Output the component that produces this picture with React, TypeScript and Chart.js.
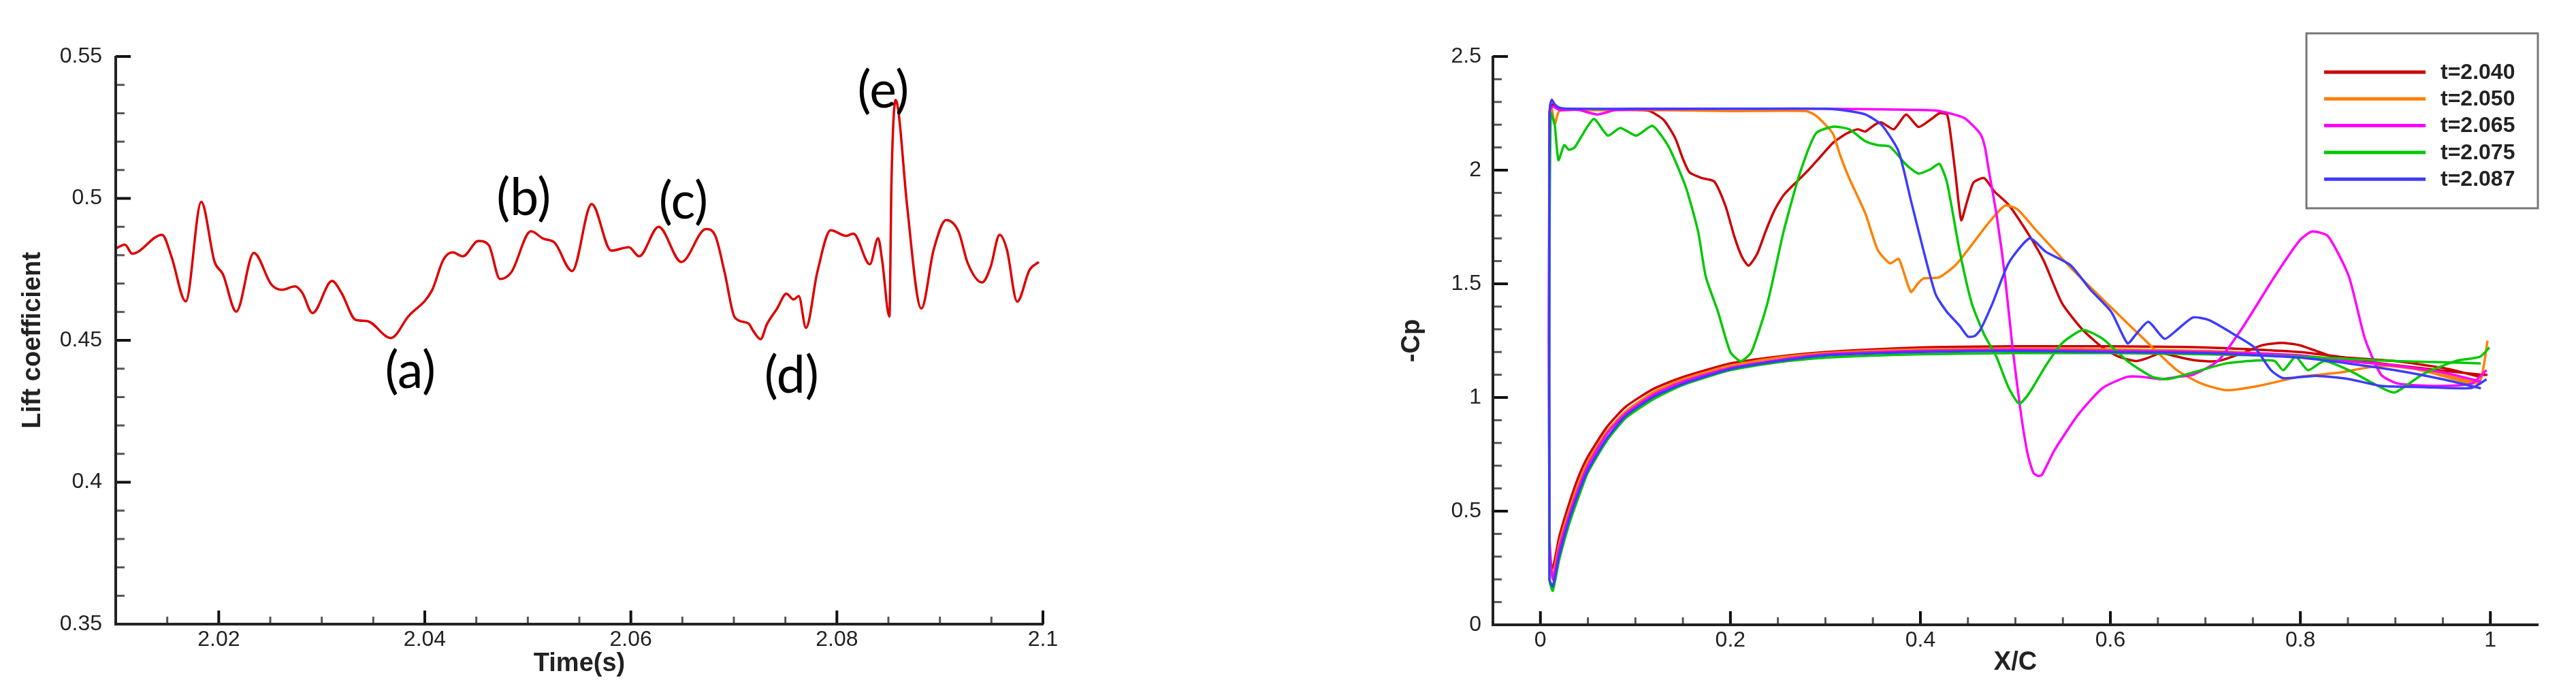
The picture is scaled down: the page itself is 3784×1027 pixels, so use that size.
import React, { useEffect, useRef } from 'react';
import { Chart, registerables } from 'chart.js';

Chart.register(...registerables);

// ---------------- Left chart: lift coefficient ----------------
const LIFT_TIME = [
  2.01, 2.0109, 2.0116, 2.0145, 2.0154, 2.0168, 2.0183, 2.0196, 2.0204, 2.0217,
  2.0234, 2.0251, 2.0261, 2.0274, 2.0281, 2.0291, 2.031, 2.0319, 2.0333, 2.0344,
  2.0367, 2.0384, 2.0407, 2.0418, 2.0427, 2.0437, 2.0452, 2.0462, 2.0473, 2.0484,
  2.0503, 2.0515, 2.0526, 2.0543, 2.0562, 2.0581, 2.0598, 2.0608, 2.0627, 2.0649,
  2.0673, 2.0682, 2.0691, 2.0701, 2.0714, 2.0719, 2.0726, 2.0732, 2.0742, 2.0751,
  2.0758, 2.0763, 2.077, 2.0781, 2.0794, 2.0809, 2.0816, 2.0832, 2.084, 2.0844,
  2.0851, 2.0853, 2.0857, 2.086, 2.0868, 2.0882, 2.0894, 2.0906, 2.0918, 2.0927,
  2.0941, 2.0949, 2.0958, 2.0965, 2.0975, 2.0987, 2.0996,
];
const LIFT_VALUE = [
  0.4824, 0.4837, 0.4805, 0.4872, 0.4796, 0.4637, 0.4988, 0.4776, 0.4733, 0.4601,
  0.4808, 0.4697, 0.4678, 0.469, 0.4668, 0.4596, 0.4709, 0.4668, 0.4572, 0.4568,
  0.4508, 0.4584, 0.4676, 0.4784, 0.481, 0.4796, 0.485, 0.4836, 0.4716, 0.474,
  0.4884, 0.4858, 0.4844, 0.4744, 0.498, 0.4816, 0.4828, 0.4796, 0.49, 0.4776,
  0.4892, 0.4868, 0.474, 0.458, 0.456, 0.4532, 0.4504, 0.4556, 0.4612, 0.4664,
  0.4644, 0.4656, 0.4544, 0.474, 0.4888, 0.4868, 0.4876, 0.4768, 0.486, 0.478,
  0.4584, 0.506, 0.5347, 0.5299, 0.498, 0.4612, 0.482, 0.4924, 0.4884, 0.4772,
  0.4704, 0.4756, 0.4872, 0.482, 0.4636, 0.4748, 0.4776,
];
const LIFT_X_TICKS = [2.02, 2.04, 2.06, 2.08, 2.1];
const LIFT_X_TICK_LABELS = ['2.02', '2.04', '2.06', '2.08', '2.1'];
const LIFT_Y_TICKS = [0.35, 0.4, 0.45, 0.5, 0.55];
const LIFT_Y_TICK_LABELS = ['0.35', '0.4', '0.45', '0.5', '0.55'];
const ANNOT_LABELS = ['(a)', '(b)', '(c)', '(d)', '(e)'];
const ANNOT_X = [2.0386, 2.0496, 2.0651, 2.0756, 2.0845];
const ANNOT_Y = [0.439, 0.4999, 0.4987, 0.4373, 0.5378];

// ---------------- Right chart: -Cp distributions ----------------
const CP_LABELS = ['t=2.040', 't=2.050', 't=2.065', 't=2.075', 't=2.087'];

const CP_LOWER_X = [0.013, 0.02, 0.03, 0.04, 0.05, 0.07, 0.09, 0.12, 0.15, 0.2, 0.25, 0.3, 0.4, 0.5, 0.6, 0.7, 0.8, 0.85, 0.9, 0.95, 0.99];
const CP_T2040_LOWER = [0.25, 0.39, 0.53, 0.65, 0.74, 0.87, 0.96, 1.04, 1.09, 1.15, 1.18, 1.2, 1.22, 1.225, 1.225, 1.22, 1.2, 1.175, 1.16, 1.13, 1.09];
const CP_T2050_LOWER = [0.22, 0.36, 0.5, 0.62, 0.72, 0.85, 0.94, 1.025, 1.08, 1.14, 1.175, 1.195, 1.212, 1.215, 1.212, 1.205, 1.185, 1.16, 1.14, 1.1, 1.06];
const CP_T2065_LOWER = [0.2, 0.34, 0.48, 0.6, 0.7, 0.84, 0.93, 1.015, 1.07, 1.13, 1.165, 1.19, 1.205, 1.21, 1.205, 1.2, 1.185, 1.16, 1.14, 1.11, 1.07];
const CP_T2075_LOWER = [0.15, 0.29, 0.44, 0.56, 0.67, 0.81, 0.91, 0.995, 1.055, 1.12, 1.155, 1.175, 1.19, 1.195, 1.195, 1.19, 1.18, 1.17, 1.16, 1.155, 1.15];
const CP_T2087_LOWER = [0.17, 0.31, 0.46, 0.58, 0.68, 0.82, 0.92, 1.005, 1.06, 1.125, 1.16, 1.185, 1.2, 1.205, 1.2, 1.195, 1.175, 1.15, 1.12, 1.08, 1.04];

const CP_T2040_UPPER: number[][] = [
  [0.0095, 0.3], [0.0095, 2.25], [0.013, 2.29], [0.02, 2.27], [0.05, 2.265], [0.1, 2.265], [0.115, 2.26],
  [0.13, 2.22], [0.142, 2.14], [0.15, 2.05], [0.157, 1.99], [0.17, 1.965], [0.183, 1.95], [0.195, 1.84],
  [0.204, 1.71], [0.212, 1.62], [0.219, 1.58], [0.228, 1.63], [0.237, 1.73], [0.246, 1.82], [0.256, 1.89],
  [0.27, 1.95], [0.282, 2.0], [0.295, 2.06], [0.308, 2.12], [0.322, 2.16], [0.334, 2.18], [0.342, 2.17],
  [0.352, 2.2], [0.359, 2.21], [0.372, 2.18], [0.385, 2.245], [0.398, 2.19], [0.41, 2.22], [0.42, 2.25],
  [0.428, 2.245], [0.432, 2.15], [0.437, 1.98], [0.443, 1.78], [0.449, 1.86], [0.456, 1.946], [0.467, 1.965],
  [0.478, 1.906], [0.493, 1.847], [0.515, 1.71], [0.53, 1.6], [0.549, 1.415], [0.571, 1.297], [0.592, 1.219],
  [0.609, 1.179], [0.627, 1.16], [0.64, 1.175], [0.653, 1.195], [0.67, 1.18], [0.687, 1.165], [0.713, 1.16],
  [0.739, 1.195], [0.76, 1.23], [0.78, 1.24], [0.799, 1.23], [0.82, 1.2], [0.834, 1.18], [0.885, 1.15],
  [0.946, 1.12], [0.99, 1.1], [0.997, 1.1],
];
const CP_T2050_UPPER: number[][] = [
  [0.0095, 0.3], [0.0095, 2.2], [0.012, 2.27], [0.015, 2.2], [0.02, 2.26], [0.05, 2.265], [0.1, 2.265],
  [0.2, 2.26], [0.28, 2.26], [0.29, 2.24], [0.3, 2.2], [0.308, 2.16], [0.316, 2.06], [0.325, 1.965],
  [0.342, 1.81], [0.355, 1.65], [0.368, 1.59], [0.377, 1.61], [0.381, 1.57], [0.39, 1.464], [0.397, 1.5],
  [0.403, 1.523], [0.42, 1.529], [0.437, 1.582], [0.454, 1.671], [0.472, 1.769], [0.489, 1.844], [0.502, 1.828],
  [0.523, 1.73], [0.558, 1.572], [0.601, 1.395], [0.635, 1.258], [0.67, 1.12], [0.696, 1.061], [0.722, 1.032],
  [0.756, 1.051], [0.799, 1.091], [0.842, 1.11], [0.885, 1.14], [0.928, 1.12], [0.98, 1.061], [0.99, 1.08],
  [0.997, 1.25],
];
const CP_T2065_UPPER: number[][] = [
  [0.0095, 0.4], [0.0095, 2.26], [0.013, 2.28], [0.02, 2.265], [0.04, 2.265], [0.06, 2.245], [0.08, 2.265],
  [0.2, 2.27], [0.3, 2.27], [0.4, 2.265], [0.42, 2.26], [0.446, 2.23], [0.463, 2.16], [0.468, 2.1],
  [0.472, 2.0], [0.48, 1.808], [0.489, 1.533], [0.497, 1.219], [0.506, 0.924], [0.513, 0.75], [0.519, 0.668],
  [0.524, 0.655], [0.528, 0.66], [0.541, 0.767], [0.566, 0.924], [0.592, 1.042], [0.618, 1.091], [0.635, 1.09],
  [0.653, 1.081], [0.67, 1.09], [0.687, 1.1], [0.713, 1.16], [0.739, 1.307], [0.773, 1.533], [0.799, 1.69],
  [0.812, 1.73], [0.829, 1.71], [0.851, 1.533], [0.868, 1.258], [0.885, 1.1], [0.903, 1.061], [0.946, 1.051],
  [0.98, 1.061], [0.996, 1.12],
];
const CP_T2075_UPPER: number[][] = [
  [0.0095, 0.2], [0.0095, 1.5], [0.011, 2.25], [0.015, 2.2], [0.019, 2.044], [0.025, 2.11], [0.03, 2.09],
  [0.036, 2.1], [0.056, 2.225], [0.071, 2.152], [0.084, 2.186], [0.101, 2.152], [0.118, 2.195], [0.135, 2.103],
  [0.153, 1.926], [0.166, 1.73], [0.174, 1.533], [0.187, 1.376], [0.2, 1.199], [0.211, 1.16], [0.222, 1.199],
  [0.239, 1.415], [0.256, 1.73], [0.273, 1.985], [0.29, 2.162], [0.308, 2.191], [0.325, 2.18], [0.342, 2.127],
  [0.355, 2.11], [0.368, 2.103], [0.385, 2.024], [0.398, 1.985], [0.411, 2.005], [0.42, 2.028], [0.428, 1.946],
  [0.441, 1.651], [0.454, 1.415], [0.467, 1.278], [0.48, 1.179], [0.493, 1.042], [0.504, 0.973], [0.515, 1.022],
  [0.532, 1.14], [0.549, 1.238], [0.571, 1.297], [0.592, 1.258], [0.618, 1.16], [0.644, 1.091], [0.661, 1.081],
  [0.687, 1.11], [0.722, 1.15], [0.756, 1.163], [0.773, 1.16], [0.782, 1.12], [0.795, 1.179], [0.808, 1.12],
  [0.825, 1.16], [0.851, 1.12], [0.877, 1.061], [0.899, 1.022], [0.928, 1.1], [0.963, 1.16], [0.989, 1.179],
  [0.999, 1.22],
];
const CP_T2087_UPPER: number[][] = [
  [0.0095, 0.2], [0.0095, 2.0], [0.01, 2.28], [0.012, 2.31], [0.015, 2.29], [0.02, 2.275], [0.03, 2.27],
  [0.1, 2.27], [0.2, 2.27], [0.3, 2.27], [0.325, 2.26], [0.342, 2.245], [0.359, 2.2], [0.377, 2.083],
  [0.39, 1.867], [0.403, 1.651], [0.416, 1.454], [0.428, 1.376], [0.441, 1.317], [0.45, 1.268], [0.457, 1.27],
  [0.463, 1.297], [0.476, 1.415], [0.493, 1.592], [0.515, 1.7], [0.532, 1.641], [0.558, 1.582], [0.579, 1.474],
  [0.601, 1.376], [0.618, 1.238], [0.627, 1.278], [0.64, 1.333], [0.657, 1.258], [0.67, 1.297], [0.687, 1.352],
  [0.704, 1.34], [0.73, 1.278], [0.752, 1.219], [0.769, 1.12], [0.782, 1.085], [0.816, 1.095], [0.851, 1.081],
  [0.885, 1.051], [0.928, 1.046], [0.98, 1.042], [0.996, 1.08],
];
const CP_X_TICKS = [0, 0.2, 0.4, 0.6, 0.8, 1];
const CP_X_TICK_LABELS = ['0', '0.2', '0.4', '0.6', '0.8', '1'];
const CP_Y_TICKS = [0, 0.5, 1, 1.5, 2, 2.5];
const CP_Y_TICK_LABELS = ['0', '0.5', '1', '1.5', '2', '2.5'];

// ---------------- styles ----------------
const FONT = "'Liberation Sans', Arial, sans-serif";
const TEXT = '#222';
const LIFT_COLOR = '#dd0000';
const CP_COLORS = ['#cc0000', '#ff8000', '#ff00ff', '#00c800', '#3c3cff'];

function steps(start: number, count: number, step: number) {
  const out: number[] = [];
  for (let i = 0; i < count; i++) out.push(Number((start + i * step).toFixed(5)));
  return out;
}

const axesPlugin = {
  id: 'tecAxes',
  afterDatasetsDraw(chart: any, _args: any, opts: any) {
    const { ctx, chartArea: ca, scales } = chart;
    const xs = scales.x;
    const ys = scales.y;
    ctx.save();
    const seg = (x1: number, y1: number, x2: number, y2: number) => {
      ctx.beginPath();
      ctx.moveTo(x1, y1);
      ctx.lineTo(x2, y2);
      ctx.stroke();
    };
    ctx.strokeStyle = '#555';
    ctx.lineWidth = 3;
    for (const v of opts.xMinor) {
      const p = xs.getPixelForValue(v);
      seg(p, ca.bottom, p, ca.bottom - 11);
    }
    for (const v of opts.yMinor) {
      const p = ys.getPixelForValue(v);
      seg(ca.left, p, ca.left + 13, p);
    }
    ctx.strokeStyle = '#111';
    ctx.lineWidth = 4;
    for (const v of opts.xMajor) {
      const p = xs.getPixelForValue(v);
      seg(p, ca.bottom, p, ca.bottom - 20);
    }
    for (const v of opts.yMajor) {
      const p = ys.getPixelForValue(v);
      seg(ca.left, p, ca.left + 22, p);
    }
    ctx.strokeStyle = '#222';
    ctx.lineWidth = 4;
    ctx.beginPath();
    ctx.moveTo(ca.left, ca.top - 1);
    ctx.lineTo(ca.left, ca.bottom);
    ctx.lineTo(ca.right + 1, ca.bottom);
    ctx.stroke();
    ctx.restore();
  },
};

const annotPlugin = {
  id: 'annots',
  afterDraw(chart: any) {
    const { ctx, scales } = chart;
    ctx.save();
    ctx.fillStyle = '#000';
    ctx.font = "75px Lato, 'Open Sans', sans-serif";
    ctx.textAlign = 'center';
    ctx.textBaseline = 'middle';
    ANNOT_LABELS.forEach((t, i) => {
      ctx.fillText(t, scales.x.getPixelForValue(ANNOT_X[i]), scales.y.getPixelForValue(ANNOT_Y[i]));
    });
    ctx.restore();
  },
};

const legendPlugin = {
  id: 'boxLegend',
  afterDraw(chart: any) {
    const { ctx, chartArea: ca } = chart;
    const w = 340;
    const h = 257;
    const x0 = ca.right - w;
    const y0 = ca.top - 34;
    ctx.save();
    ctx.fillStyle = '#fff';
    ctx.fillRect(x0, y0, w, h);
    ctx.strokeStyle = '#777';
    ctx.lineWidth = 3;
    ctx.strokeRect(x0, y0, w, h);
    ctx.font = `bold 32px ${FONT}`;
    ctx.textBaseline = 'middle';
    ctx.textAlign = 'left';
    chart.data.datasets.forEach((ds: any, i: number) => {
      const y = y0 + 57 + i * 39.3;
      ctx.strokeStyle = ds.borderColor;
      ctx.lineWidth = 5;
      ctx.beginPath();
      ctx.moveTo(x0 + 26, y);
      ctx.lineTo(x0 + 175, y);
      ctx.stroke();
      ctx.fillStyle = TEXT;
      ctx.fillText(ds.label, x0 + 197, y + 1);
    });
    ctx.restore();
  },
};

function tickOpts(labels: string[], padding: number) {
  return {
    autoSkip: false,
    maxRotation: 0,
    minRotation: 0,
    padding,
    color: TEXT,
    font: { family: FONT, size: 32 },
    callback: (_v: any, i: number) => labels[i],
  };
}

function LiftChart() {
  const ref = useRef<HTMLCanvasElement | null>(null);
  useEffect(() => {
    if (!ref.current) return;
    const chart = new Chart(ref.current, {
      type: 'line',
      data: {
        datasets: [
          {
            label: 'Lift coefficient',
            data: LIFT_TIME.map((t, i) => ({ x: t, y: LIFT_VALUE[i] })),
            borderColor: LIFT_COLOR,
            borderWidth: 3.5,
            pointRadius: 0,
            cubicInterpolationMode: 'monotone',
            fill: false,
          },
        ],
      },
      options: {
        responsive: false,
        animation: false,
        devicePixelRatio: 1,
        layout: { padding: { left: 0, top: 83, right: 360, bottom: 0 } },
        plugins: {
          legend: { display: false },
          tooltip: { enabled: false },
          tecAxes: {
            xMajor: LIFT_X_TICKS,
            yMajor: LIFT_Y_TICKS,
            xMinor: steps(2.015, 17, 0.005),
            yMinor: steps(0.36, 19, 0.01),
          },
        } as any,
        scales: {
          x: {
            type: 'linear',
            min: 2.01,
            max: 2.1,
            afterBuildTicks: (s: any) => {
              s.ticks = LIFT_X_TICKS.map((v) => ({ value: v }));
            },
            afterFit: (s: any) => {
              s.height = 110;
            },
            ticks: tickOpts(LIFT_X_TICK_LABELS, 4),
            grid: { display: false, drawTicks: false },
            border: { display: false },
            title: {
              display: true,
              text: 'Time(s)',
              color: TEXT,
              font: { family: FONT, size: 38, weight: 'bold' },
              padding: { top: 0, bottom: 29 },
            },
          },
          y: {
            type: 'linear',
            min: 0.35,
            max: 0.55,
            afterBuildTicks: (s: any) => {
              s.ticks = LIFT_Y_TICKS.map((v) => ({ value: v }));
            },
            afterFit: (s: any) => {
              s.width = 170;
            },
            ticks: tickOpts(LIFT_Y_TICK_LABELS, 20),
            grid: { display: false, drawTicks: false },
            border: { display: false },
            title: {
              display: true,
              text: 'Lift coefficient',
              color: TEXT,
              font: { family: FONT, size: 38, weight: 'bold' },
              padding: { top: 26, bottom: 0 },
            },
          },
        },
      } as any,
      plugins: [axesPlugin, annotPlugin],
    });
    return () => chart.destroy();
  }, []);
  return (
    <canvas
      ref={ref}
      width={1892}
      height={1027}
      style={{ position: 'absolute', left: 0, top: 0, width: 1892, height: 1027 }}
    />
  );
}

function CpChart() {
  const ref = useRef<HTMLCanvasElement | null>(null);
  useEffect(() => {
    if (!ref.current) return;
    const lowers = [CP_T2040_LOWER, CP_T2050_LOWER, CP_T2065_LOWER, CP_T2075_LOWER, CP_T2087_LOWER];
    const uppers = [CP_T2040_UPPER, CP_T2050_UPPER, CP_T2065_UPPER, CP_T2075_UPPER, CP_T2087_UPPER];
    const datasets = CP_LABELS.map((label, k) => {
      const lowerPts = CP_LOWER_X.map((x, i) => ({ x, y: lowers[k][i] })).reverse();
      const upperPts = uppers[k].map(([x, y]) => ({ x, y }));
      return {
        label,
        data: [...lowerPts, ...upperPts],
        borderColor: CP_COLORS[k],
        borderWidth: 3.5,
        pointRadius: 0,
        tension: 0.2,
        fill: false,
        order: CP_LABELS.length - k,
      };
    });
    const chart = new Chart(ref.current, {
      type: 'line',
      data: { datasets },
      options: {
        responsive: false,
        animation: false,
        devicePixelRatio: 1,
        layout: { padding: { left: 0, top: 83, right: 56, bottom: 0 } },
        plugins: {
          legend: { display: false },
          tooltip: { enabled: false },
          tecAxes: {
            xMajor: CP_X_TICKS,
            yMajor: CP_Y_TICKS,
            xMinor: steps(0.05, 20, 0.05),
            yMinor: steps(0.1, 24, 0.1),
          },
        } as any,
        scales: {
          x: {
            type: 'linear',
            min: -0.05,
            max: 1.05,
            afterBuildTicks: (s: any) => {
              s.ticks = CP_X_TICKS.map((v) => ({ value: v }));
            },
            afterFit: (s: any) => {
              s.height = 109;
            },
            ticks: tickOpts(CP_X_TICK_LABELS, 4),
            grid: { display: false, drawTicks: false },
            border: { display: false },
            title: {
              display: true,
              text: 'X/C',
              color: TEXT,
              font: { family: FONT, size: 38, weight: 'bold' },
              padding: { top: 0, bottom: 31 },
            },
          },
          y: {
            type: 'linear',
            min: 0,
            max: 2.5,
            afterBuildTicks: (s: any) => {
              s.ticks = CP_Y_TICKS.map((v) => ({ value: v }));
            },
            afterFit: (s: any) => {
              s.width = 301;
            },
            ticks: tickOpts(CP_Y_TICK_LABELS, 17),
            grid: { display: false, drawTicks: false },
            border: { display: false },
            title: {
              display: true,
              text: '-Cp',
              color: TEXT,
              font: { family: FONT, size: 38, weight: 'bold' },
              padding: { top: 160, bottom: 0 },
            },
          },
        },
      } as any,
      plugins: [axesPlugin, legendPlugin],
    });
    return () => chart.destroy();
  }, []);
  return (
    <canvas
      ref={ref}
      width={1892}
      height={1027}
      style={{ position: 'absolute', left: 1892, top: 0, width: 1892, height: 1027 }}
    />
  );
}

export default function App() {
  return (
    <div
      style={{
        position: 'fixed',
        left: 0,
        top: 0,
        width: 3784,
        height: 1027,
        background: '#fff',
        overflow: 'hidden',
      }}
    >
      <LiftChart />
      <CpChart />
    </div>
  );
}
